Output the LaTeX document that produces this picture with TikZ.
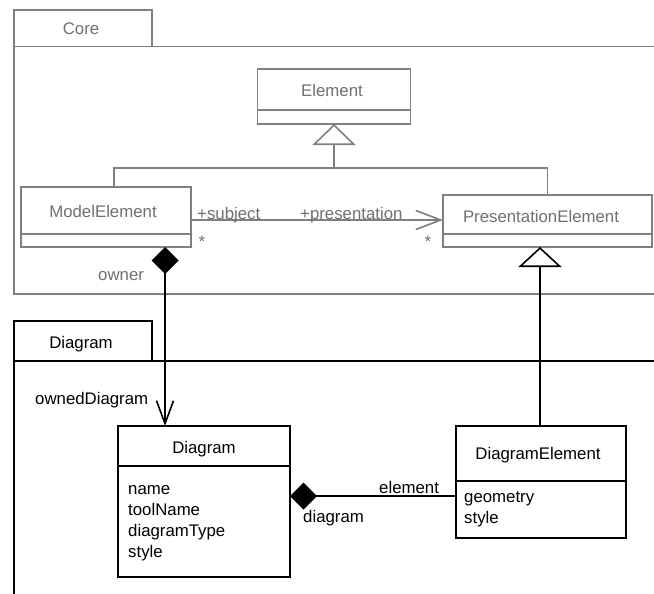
\documentclass[tikz,border=0pt]{standalone}
\usepackage{fontspec}
\setmainfont{Liberation Sans}
\usetikzlibrary{arrows.meta}
\definecolor{coregray}{RGB}{128,128,128}
\definecolor{coretext}{RGB}{112,112,112}

\begin{document}
\begin{tikzpicture}[x=1pt,y=-1pt,
  lbl/.style={font=\fontsize{16.8}{20}\selectfont, inner sep=0pt, anchor=base},
  lblw/.style={lbl, anchor=base west},
  coreline/.style={draw=coregray, line width=1.6pt},
  diagline/.style={draw=black, line width=1.6pt},
  coretxt/.style={text=coretext},
  clsbox/.style={rectangle, inner sep=0pt, outer sep=0pt, fill=white},
  pkgtab/.style={rectangle, inner sep=0pt, outer sep=0pt, minimum width=138pt},
  gentip/.style={-{Triangle[open, length=21pt, width=43pt, fill=white]}},
  navtip/.style={-{Straight Barb[length=25pt, width=19pt]}},
  comptip/.style={{Diamond[length=27pt, width=27pt]}-},
]
\useasboundingbox (0,0) rectangle (654,594);
\clip (0,0) rectangle (654,594);

% ---------- package Core ----------
\node[pkgtab, coreline, minimum height=36.5pt] (coretab) at (83,28.25) {};
\draw[coreline] (coretab.south west) -- (14,294) -- (680,294);
\draw[coreline] (coretab.south east) -- (680,46.5);
\draw[coreline] (coretab.south west) -- (coretab.south east);
\node[lbl, coretxt] (coretitle) at (81,35) {Core};

% ---------- package Diagram ----------
\node[pkgtab, diagline, minimum height=40pt] (diagtab) at (83,341) {};
\draw[diagline] (diagtab.south west) -- (14,620);
\draw[diagline] (diagtab.south west) -- (680,361);
\node[lbl] (diagtitle) at (81,348) {Diagram};

% ---------- Core classes ----------
\node[clsbox, coreline, minimum width=153pt, minimum height=55pt] (elem) at (334,96.5) {};
\draw[coreline] (257.5,110) -- (410.5,110);
\node[lbl, coretxt] (elemname) at (332,96.5) {Element};

\node[clsbox, coreline, minimum width=170pt, minimum height=60pt] (me) at (106,217) {};
\draw[coreline] (21,234) -- (191,234);
\node[lbl, coretxt] (mename) at (103,217) {ModelElement};

\node[clsbox, coreline, minimum width=209pt, minimum height=52pt] (pe) at (547.5,221) {};
\draw[coreline] (443,234) -- (652,234);
\node[lbl, coretxt] (pename) at (541,222) {PresentationElement};

% generalization ModelElement / PresentationElement -> Element
\coordinate (gj) at (334,168);
\coordinate (gl) at (114,168);
\draw[coreline, gentip] (gj) -- (elem.south);
\draw[coreline] (me.north -| gl) |- (gj) -| (pe.north);

% association subject / presentation
\coordinate (asy) at (0,220);
\draw[coreline, navtip] (me.east |- asy) -- (pe.west |- asy);
\node[lblw, coretxt] (subj) at (197,219) {+subject};
\node[lblw, coretxt] (pres) at (300,219) {+presentation};
\node[lbl, coretxt] (subjmult) at (202,247.5) {*};
\node[lbl, coretxt] (presmult) at (428,247.5) {*};

% ---------- Diagram classes ----------
\node[clsbox, diagline, minimum width=172pt, minimum height=151pt] (dg) at (204,501.5) {};
\draw[diagline] (118,466) -- (290,466);
\node[lbl] (dgname) at (204,453) {Diagram};
\node[lblw] (a1) at (128,494) {name};
\node[lblw] (a2) at (128,515) {toolName};
\node[lblw] (a3) at (128,536) {diagramType};
\node[lblw] (a4) at (128,557) {style};

\node[clsbox, diagline, minimum width=170pt, minimum height=112pt] (de) at (541,482) {};
\draw[diagline] (456,481) -- (626,481);
\node[lbl] (dename) at (538,459) {DiagramElement};
\node[lblw] (b1) at (464,502) {geometry};
\node[lblw] (b2) at (464,523) {style};

% composition ModelElement owner -> Diagram ownedDiagram
\coordinate (ownx) at (165,0);
\draw[diagline, {Diamond[length=27pt, width=27pt]}-{Straight Barb[length=23pt, width=17pt]}]
  (me.south -| ownx) -- (dg.north -| ownx);
\node[lblw, coretxt] (ownerlbl) at (98,280) {owner};
\node[lblw] (owneddg) at (35,404) {ownedDiagram};

% generalization DiagramElement -> PresentationElement
\coordinate (genx) at (540,0);
\draw[diagline, -{Triangle[open, length=20pt, width=43pt, fill=white]}]
  (de.north -| genx) -- (pe.south -| genx);

% composition Diagram diagram -> DiagramElement element
\coordinate (cy) at (0,496);
\draw[diagline, comptip] (dg.east |- cy) -- (de.west |- cy);
\node[lblw] (elemlbl) at (379,493) {element};
\node[lblw] (dglbl) at (303,522) {diagram};
\end{tikzpicture}
\end{document}
